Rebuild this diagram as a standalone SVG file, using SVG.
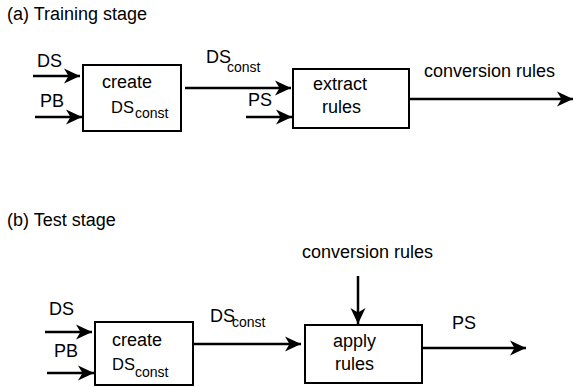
<svg xmlns="http://www.w3.org/2000/svg" width="574" height="387" viewBox="0 0 574 387">
  <style>
    text { font-family: "Liberation Sans", Helvetica, Arial, sans-serif; font-size: 18px; fill: #000; }
    .ds { font-size: 16.5px; }
    .sub { font-size: 14px; }
    .box { fill: #fff; stroke: #000; stroke-width: 2; }
    .arr { fill: none; stroke: #000; stroke-width: 2.5; marker-end: url(#head); }
  </style>
  <defs>
    <marker id="head" markerUnits="userSpaceOnUse" markerWidth="18" markerHeight="18" viewBox="0 0 18 18" refX="17" refY="9" orient="auto">
      <path d="M1,1.5 L17,9 L1,16.5 L5.5,9 z" fill="#000"/>
    </marker>
  </defs>

  <!-- stage titles -->
  <text x="7" y="20">(a) Training stage</text>
  <text x="7" y="226">(b) Test stage</text>

  <!-- training stage nodes -->
  <g id="train-create">
    <rect class="box" x="83" y="65" width="98" height="66"/>
    <text x="102" y="88">create</text>
    <text class="ds" x="111" y="113">DS</text>
    <text class="sub" x="135" y="118">const</text>
  </g>
  <g id="train-extract">
    <rect class="box" x="293" y="69" width="116" height="59"/>
    <text x="313" y="90">extract</text>
    <text x="322" y="113">rules</text>
  </g>

  <!-- test stage nodes -->
  <g id="test-create">
    <rect class="box" x="95" y="322" width="98" height="63"/>
    <text x="112" y="346">create</text>
    <text class="ds" x="112" y="370">DS</text>
    <text class="sub" x="135" y="377">const</text>
  </g>
  <g id="test-apply">
    <rect class="box" x="305" y="325" width="117" height="58"/>
    <text x="333" y="347">apply</text>
    <text x="335" y="370">rules</text>
  </g>

  <!-- connectors and their labels -->
  <g id="connectors">
    <line class="arr" x1="33" y1="76" x2="80" y2="76"/>
    <text x="37" y="67">DS</text>
    <line class="arr" x1="35" y1="117" x2="82" y2="117"/>
    <text x="40" y="107">PB</text>
    <line class="arr" x1="185" y1="88" x2="291" y2="88"/>
    <text x="206" y="63">DS</text>
    <text class="sub" x="227" y="72">const</text>
    <line class="arr" x1="246" y1="117" x2="292" y2="117"/>
    <text x="248" y="106">PS</text>
    <line class="arr" x1="409" y1="99" x2="573" y2="99"/>
    <text x="424" y="77">conversion rules</text>

    <line class="arr" x1="45" y1="332" x2="92" y2="332"/>
    <text x="49" y="315">DS</text>
    <line class="arr" x1="47" y1="373" x2="94" y2="373"/>
    <text x="54" y="357">PB</text>
    <line class="arr" x1="193" y1="344" x2="301" y2="344"/>
    <text x="210" y="322">DS</text>
    <text class="sub" x="232" y="327">const</text>
    <line class="arr" x1="358" y1="276" x2="358" y2="324"/>
    <text x="302" y="258">conversion rules</text>
    <line class="arr" x1="422" y1="348" x2="526" y2="348"/>
    <text x="452" y="329">PS</text>
  </g>
</svg>
